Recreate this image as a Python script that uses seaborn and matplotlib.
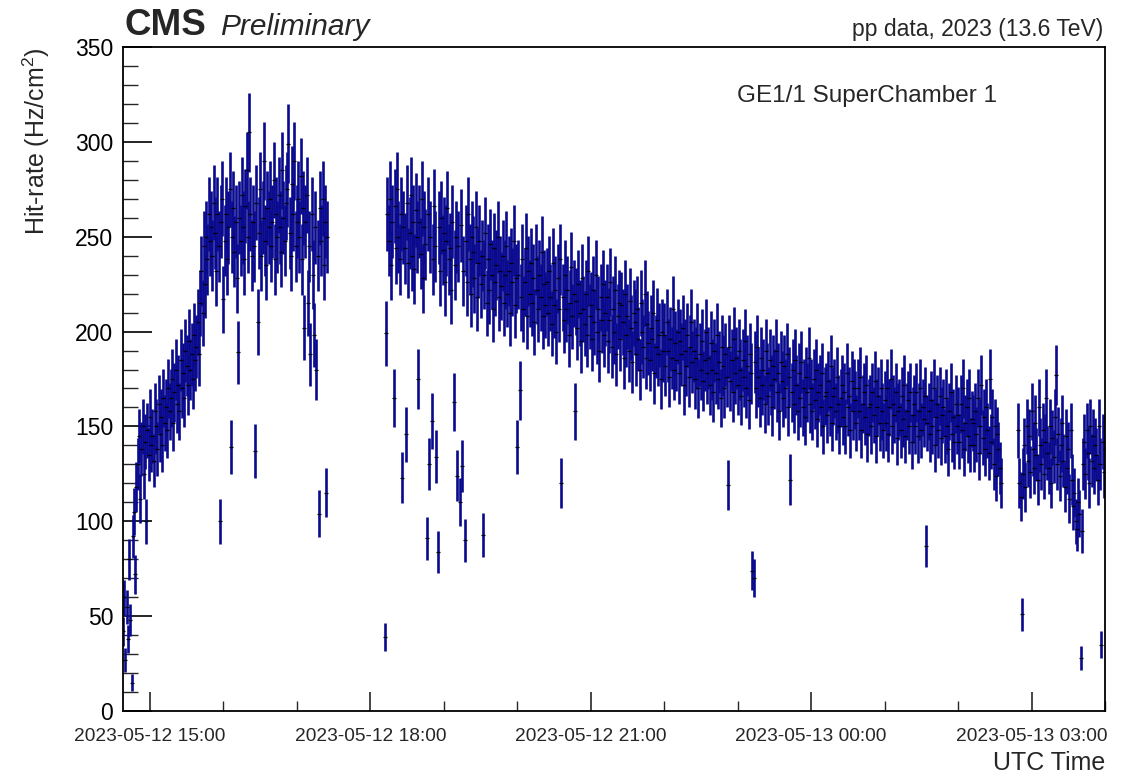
import numpy as np
import pandas as pd
import matplotlib
matplotlib.use("Agg")
import matplotlib.pyplot as plt
import matplotlib.dates as mdates
from matplotlib.ticker import MultipleLocator
import seaborn as sns

# ---------------- data ----------------
SAMPLE_STEP = "1min"

seg1_start = "2023-05-12 14:38"
seg1_rate = [
    42, 60, 27, 55, 38, 80, 48, 15, 92, 105, 72, 118,
    130, 145, 112, 138, 150, 125, 142, 100, 148, 135, 155, 140,
    145, 132, 158, 150, 138, 162, 146, 155, 140, 165, 152, 160,
    148, 170, 158, 165, 175, 152, 168, 180, 162, 172, 158, 185,
    170, 178, 165, 190, 182, 172, 195, 180, 188, 175, 198, 185,
    192, 205, 188, 215, 232, 210, 245, 225, 250, 238, 262, 248,
    255, 240, 268, 252, 232, 262, 245, 100, 258, 270, 217, 248,
    262, 238, 255, 275, 139, 250, 265, 242, 258, 228, 189, 260,
    248, 272, 255, 238, 266, 285, 250, 305, 262, 240, 258, 245,
    137, 268, 205, 252, 275, 240, 260, 290, 248, 235, 265, 255,
    270, 245, 258, 280, 238, 262, 250, 272, 255, 242, 285, 260,
    248, 268, 275, 299, 252, 240, 278, 262, 290, 245, 258, 270,
    250, 282, 238, 265, 202, 258, 272, 215, 245, 188, 262, 230,
    198, 255, 180, 240, 104, 265, 248, 270, 235, 258, 115, 250,
]

seg2_start = "2023-05-12 18:12"
seg2_rate = [
    39, 199, 262, 248, 270, 235, 258, 165, 266, 244, 275, 250,
    238, 262, 123, 255, 244, 146, 268, 236, 252, 272, 240, 258,
    233, 264, 250, 175, 258, 241, 270, 228, 255, 246, 91, 262,
    130, 250, 153, 238, 266, 245, 134, 84, 255, 232, 260, 243,
    252, 226, 248, 265, 238, 244, 222, 258, 163, 235, 250, 124,
    245, 110, 256, 129, 232, 90, 248, 226, 262, 238, 220, 250,
    242, 228, 255, 218, 236, 248, 225, 240, 93, 230, 252, 215,
    238, 222, 246, 230, 212, 244, 226, 235, 250, 218, 232, 224,
    240, 215, 230, 245, 220, 232, 210, 236, 226, 248, 214, 228,
    139, 230, 169, 218, 238, 212, 226, 244, 208, 232, 220, 236,
    215, 228, 205, 238, 222, 212, 230, 218, 242, 208, 225, 214,
    226, 210, 232, 218, 204, 236, 214, 222, 200, 228, 212, 238,
    120, 218, 206, 230, 212, 222, 198, 215, 234, 208, 220, 158,
    216, 202, 225, 210, 195, 228, 212, 204, 220, 198, 232, 208,
    214, 196, 222, 205, 230, 200, 212, 190, 218, 206, 225, 198,
    210, 218, 195, 206, 226, 192, 212, 200, 222, 188, 208, 215,
    196, 214, 205, 186, 220, 198, 208, 190, 216, 202, 184, 210,
    205, 188, 212, 196, 180, 215, 200, 192, 220, 186, 204, 194,
    185, 202, 196, 210, 178, 192, 206, 188, 198, 175, 200, 190,
    198, 182, 205, 190, 176, 196, 186, 212, 180, 194, 185, 200,
    178, 195, 188, 202, 172, 190, 182, 198, 176, 192, 205, 184,
    190, 175, 186, 198, 170, 188, 180, 195, 174, 185, 200, 178,
    186, 172, 194, 180, 168, 190, 178, 198, 175, 184, 165, 192,
    182, 170, 188, 176, 119, 192, 174, 185, 168, 196, 178, 186,
    172, 190, 180, 166, 185, 176, 195, 170, 182, 164, 188, 178,
    74, 70, 184, 170, 192, 176, 165, 186, 172, 180, 162, 190,
    178, 166, 185, 172, 160, 182, 175, 190, 168, 178, 158, 184,
    174, 165, 182, 170, 188, 160, 176, 122, 168, 180, 162, 185,
    172, 158, 178, 165, 184, 160, 170, 155, 176, 168, 186, 162,
    170, 158, 175, 164, 180, 154, 168, 172, 160, 178, 150, 166,
    168, 156, 174, 160, 182, 152, 166, 170, 158, 176, 162, 150,
    165, 172, 155, 168, 150, 178, 160, 166, 148, 174, 158, 170,
    164, 152, 170, 158, 176, 148, 162, 168, 155, 172, 146, 160,
    162, 150, 168, 156, 174, 145, 160, 166, 152, 170, 158, 148,
    164, 152, 170, 146, 160, 175, 150, 162, 156, 168, 144, 158,
    160, 148, 166, 154, 172, 145, 158, 164, 150, 168, 142, 156,
    162, 150, 168, 145, 158, 170, 148, 160, 154, 166, 87, 152,
    158, 146, 164, 150, 170, 140, 155, 162, 148, 166, 144, 156,
    160, 145, 165, 150, 138, 158, 168, 146, 155, 142, 162, 150,
    156, 142, 162, 148, 170, 138, 152, 160, 145, 165, 140, 154,
    152, 140, 158, 146, 165, 136, 150, 172, 144, 155, 138, 160,
    148, 136, 175, 142, 155, 130, 150, 124, 146, 138, 128, 120,
]

seg3_start = "2023-05-13 02:49"
seg3_rate = [
    148, 120, 113, 51, 125, 140, 118, 150, 132, 145, 126, 158,
    138, 128, 152, 135, 122, 160, 140, 130, 148, 125, 142, 165,
    136, 128, 150, 120, 144, 134, 155, 177, 130, 146, 124, 140,
    152, 132, 118, 145, 128, 138, 112, 148, 122, 108, 115, 100,
    96, 110, 104, 28, 95, 130, 142, 125, 148, 136, 120, 150,
    132, 145, 128, 140, 135, 122, 150, 130, 35, 142, 126, 138,
]

ERR_K = 1.2  # statistical uncertainty ~ K * sqrt(rate)

X_START = "2023-05-12 14:38"
X_END = "2023-05-13 04:00"
Y_MIN, Y_MAX = 0, 350

# ---------------- build table ----------------
frames = []
for start, rate in [(seg1_start, seg1_rate), (seg2_start, seg2_rate), (seg3_start, seg3_rate)]:
    t = pd.date_range(start, periods=len(rate), freq=SAMPLE_STEP)
    frames.append(pd.DataFrame({"time": t, "rate": np.asarray(rate, float)}))
df = pd.concat(frames, ignore_index=True)
df["err"] = ERR_K * np.sqrt(df["rate"])

# ---------------- style ----------------
sns.set_style("ticks")
plt.rcParams["font.family"] = ["Liberation Sans", "DejaVu Sans"]
plt.rcParams["mathtext.fontset"] = "custom"
plt.rcParams["mathtext.rm"] = "Liberation Sans"

fig = plt.figure(figsize=(11.25, 7.76), dpi=100)
ax = fig.add_axes([123 / 1125, 1 - 711 / 776, (1105 - 123) / 1125, (711 - 47) / 776])

ax.errorbar(df["time"], df["rate"], yerr=df["err"], fmt="none",
            ecolor="#0a0a8e", elinewidth=1.9, capsize=0, zorder=2)
sns.scatterplot(data=df, x="time", y="rate", marker="_", s=7, color="black",
                linewidth=0.9, ax=ax, zorder=3, legend=False)

ax.set_xlim(pd.Timestamp(X_START), pd.Timestamp(X_END))
ax.set_ylim(Y_MIN, Y_MAX)

ax.xaxis.set_major_locator(mdates.HourLocator(byhour=range(0, 24, 3)))
ax.xaxis.set_minor_locator(mdates.HourLocator())
ax.xaxis.set_major_formatter(mdates.DateFormatter("%Y-%m-%d %H:%M"))
ax.yaxis.set_major_locator(MultipleLocator(50))
ax.yaxis.set_minor_locator(MultipleLocator(10))

ax.tick_params(axis="y", which="major", direction="in", length=21, width=1.2,
               labelsize=16.5, pad=7, left=True, right=False, colors="black")
ax.tick_params(axis="y", which="minor", direction="in", length=10.5, width=1.0,
               left=True, right=False)
ax.tick_params(axis="x", which="major", direction="in", length=14, width=1.2,
               labelsize=13.8, pad=12, top=False, bottom=True)
ax.tick_params(axis="x", which="minor", direction="in", length=7, width=1.0,
               top=False, bottom=True)

for s in ax.spines.values():
    s.set_linewidth(1.3)
    s.set_color("black")

ax.set_xlabel("UTC Time", fontsize=18, loc="right")
ax.xaxis.set_label_coords(1.0, -0.06)
ax.set_ylabel("Hit-rate (Hz/cm$^{2}$)", fontsize=18, loc="top")
ax.yaxis.set_label_coords(-0.072, 1.0)

ax.text(0.002, 1.018, "CMS", transform=ax.transAxes, fontsize=26.5,
        fontweight="bold", va="baseline", ha="left")
ax.text(0.099, 1.018, "Preliminary", transform=ax.transAxes, fontsize=21.5,
        fontstyle="italic", va="baseline", ha="left")
ax.text(0.998, 1.017, "pp data, 2023 (13.6 TeV)", transform=ax.transAxes,
        fontsize=16.5, va="baseline", ha="right")
ax.text(0.625, 0.917, "GE1/1 SuperChamber 1", transform=ax.transAxes,
        fontsize=17.5, va="baseline", ha="left")

fig.savefig("out.png", dpi=100, facecolor="white")
